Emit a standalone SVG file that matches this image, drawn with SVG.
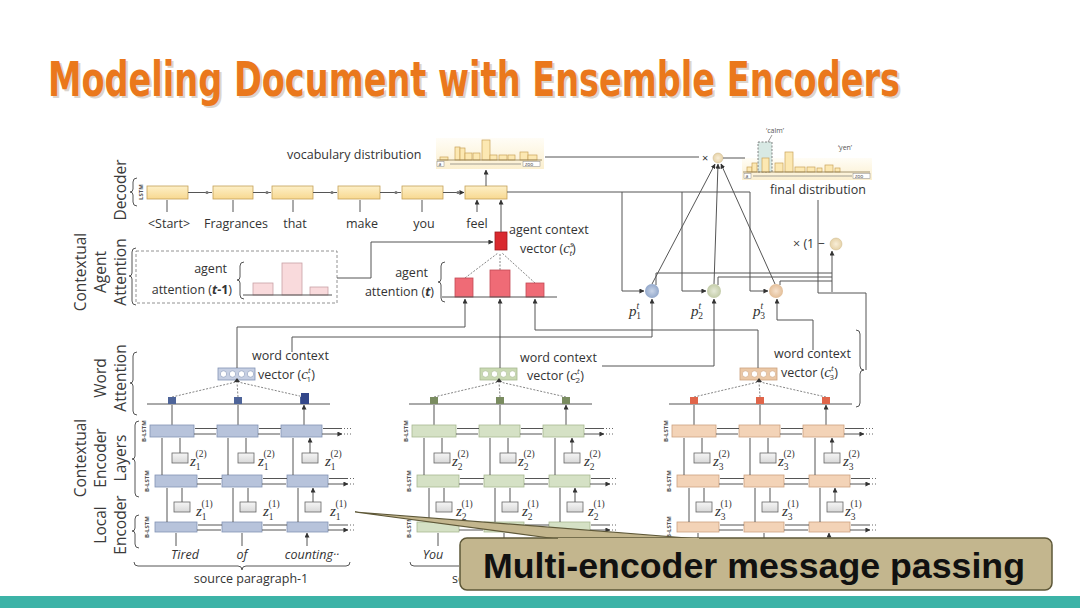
<svg xmlns="http://www.w3.org/2000/svg" xmlns:xlink="http://www.w3.org/1999/xlink" width="1080" height="608" viewBox="0 0 1080 608">
<style>
text{font-family:"Open Sans","Liberation Sans",sans-serif}
text:not([fill]){fill:#333}
.t12{font-size:12.5px}
.rl{font-size:15.5px;text-anchor:middle}
.ln{stroke:#555;stroke-width:1;fill:none}
.ar{stroke:#555;stroke-width:1;fill:none;marker-end:url(#ah)}
.dsh{stroke:#666;stroke-width:0.8;stroke-dasharray:2 1.5;fill:none}
.bx{fill:var(--bf,#ccc);stroke:var(--bs,#888);stroke-width:0.8}
.sq{fill:var(--sq,#555)}
.vec{fill:var(--vf,#ddd);stroke:var(--bs,#888);stroke-width:0.8}
.vc{fill:#fff;stroke:var(--bs,#888);stroke-width:0.6}
.zb{fill:url(#gz);stroke:#666;stroke-width:0.8}
.z{font-family:"Liberation Serif",serif;font-style:italic;font-size:15px}
.s{font-size:9.5px;font-style:normal}
.bl{font-size:6px;text-anchor:middle;font-weight:bold}
.dec{fill:url(#gy);stroke:#C4A058;stroke-width:0.8}
.wl{font-size:12.5px;text-anchor:middle}
.it{font-style:italic}
.brace{fill:none;stroke:#555;stroke-width:1}
.dots{stroke:#666;stroke-width:1;stroke-dasharray:1 2;fill:none}
.hb{fill:#FCE8B2;stroke:#C9A35A;stroke-width:0.7}
.tiny{font-size:5px}
.ttl{font-family:"DejaVu Sans Condensed","DejaVu Sans",sans-serif;font-weight:bold;font-size:48px}
.cal{font-family:"Liberation Sans",Arial,sans-serif;font-weight:bold;font-size:35px}
</style>
<defs>
<marker id="ah" viewBox="0 0 6 6" refX="5.5" refY="3" markerWidth="5" markerHeight="5" orient="auto" markerUnits="userSpaceOnUse"><path d="M0,0L6,3L0,6z" fill="#333"/></marker>
<linearGradient id="gy" x1="0" y1="0" x2="0" y2="1"><stop offset="0" stop-color="#FDF0C8"/><stop offset="1" stop-color="#F8D890"/></linearGradient>
<linearGradient id="gz" x1="0" y1="0" x2="0" y2="1"><stop offset="0" stop-color="#f6f6f6"/><stop offset="1" stop-color="#d8d8d8"/></linearGradient>
<radialGradient id="gp1"><stop offset="0" stop-color="#C9D5E8"/><stop offset="1" stop-color="#93A8CB"/></radialGradient>
<radialGradient id="gp2"><stop offset="0" stop-color="#E6EAD8"/><stop offset="1" stop-color="#C3CCA8"/></radialGradient>
<radialGradient id="gp3"><stop offset="0" stop-color="#F6E2CE"/><stop offset="1" stop-color="#E3BE98"/></radialGradient>
<radialGradient id="gx"><stop offset="0" stop-color="#F8EED8"/><stop offset="1" stop-color="#E6D2A8"/></radialGradient>
<linearGradient id="gh" x1="0" y1="0" x2="0" y2="1"><stop offset="0" stop-color="#FFFDF6"/><stop offset="1" stop-color="#FBEFCF"/></linearGradient>
<clipPath id="cl2"><rect x="400" y="570" width="59" height="20"/></clipPath>
<g id="colT">
<line x1="-3" y1="404" x2="180" y2="404" class="ln"/>
<path class="dsh" d="M22,397L86,382M88,397L87,382M154,397L88,382"/>
<rect class="vec" x="68" y="368" width="37" height="12"/>
<circle class="vc" cx="73.5" cy="374" r="3.2"/><circle class="vc" cx="82.5" cy="374" r="3.2"/><circle class="vc" cx="91.5" cy="374" r="3.2"/><circle class="vc" cx="100.5" cy="374" r="3.2"/>
<path d="M84,382L87,378L90,382z" fill="#333"/>
<rect class="sq" x="18" y="397" width="8" height="7"/><rect class="sq" x="84" y="397" width="8" height="7"/><rect class="sq" x="150" y="397" width="8" height="7"/>
<path class="ar" d="M22,425V405M88,425V405M154,425V405"/>
<rect class="bx" x="0" y="425" width="44" height="12"/><rect class="bx" x="67" y="425" width="41" height="12"/><rect class="bx" x="131" y="425" width="41" height="12"/>
<path class="ar" d="M67,428.5H45M131,428.5H109M192,428.5H173M44,434H66M108,434H130M172,434H192"/>
<path class="dots" d="M194,428.5H202M194,434H202"/>
<rect class="bx" x="5" y="475" width="42" height="12"/><rect class="bx" x="72" y="475" width="40" height="12"/><rect class="bx" x="137" y="475" width="41" height="12"/>
<path class="ar" d="M72,478.5H48M137,478.5H113M198,478.5H179M47,484H71M112,484H136M178,484H198"/>
<path class="dots" d="M200,478.5H206M200,484H206"/>
<rect class="bx" x="5" y="522" width="42" height="10"/><rect class="bx" x="72" y="522" width="40" height="10"/><rect class="bx" x="137" y="522" width="41" height="10"/>
<path class="ar" d="M72,525H48M137,525H113M198,525H179M47,530H71M112,530H136M178,530H198"/>
<path class="dots" d="M200,525H206M200,530H206"/>
<path class="ar" d="M12,475V438M78,475V438M143,475V438M30,453V438M96,453V438M160,453V438"/>
<rect class="zb" x="22" y="453" width="16" height="10"/><rect class="zb" x="88" y="453" width="16" height="10"/><rect class="zb" x="152" y="453" width="16" height="10"/>
<path class="ar" d="M17,522V488M83,522V488M148,522V488M32,502V488M98,502V488M163,502V488"/>
<rect class="zb" x="24" y="502" width="16" height="10"/><rect class="zb" x="90" y="502" width="16" height="10"/><rect class="zb" x="155" y="502" width="16" height="10"/>
<path class="ar" d="M26,546V533M92,546V533M157,546V533"/>
<text class="bl" fill="#555" transform="translate(-4,431) rotate(-90)">B-LSTM</text>
<text class="bl" fill="#555" transform="translate(-1,481) rotate(-90)">B-LSTM</text>
<text class="bl" fill="#555" transform="translate(-1,527) rotate(-90)">B-LSTM</text>
</g>
</defs>
<rect width="1080" height="608" fill="#fff"/>
<g id="title">
<text class="ttl" x="50" y="98" textLength="852" lengthAdjust="spacingAndGlyphs" fill="#BFB3A6" opacity="0.55">Modeling Document with Ensemble Encoders</text>
<text class="ttl" x="48" y="96" textLength="852" lengthAdjust="spacingAndGlyphs" fill="#EA781C">Modeling Document with Ensemble Encoders</text>
</g>
<g id="row-labels">
<text class="rl" fill="#3a3a3a" transform="translate(126,190) rotate(-90)">Decoder</text>
<text class="rl" fill="#3a3a3a" transform="translate(86,272) rotate(-90)">Contextual</text>
<text class="rl" fill="#3a3a3a" transform="translate(106,272) rotate(-90)">Agent</text>
<text class="rl" fill="#3a3a3a" transform="translate(126,272) rotate(-90)">Attention</text>
<text class="rl" fill="#3a3a3a" transform="translate(106,378) rotate(-90)">Word</text>
<text class="rl" fill="#3a3a3a" transform="translate(126,378) rotate(-90)">Attention</text>
<text class="rl" fill="#3a3a3a" transform="translate(86,458) rotate(-90)">Contextual</text>
<text class="rl" fill="#3a3a3a" transform="translate(106,458) rotate(-90)">Encoder</text>
<text class="rl" fill="#3a3a3a" transform="translate(126,458) rotate(-90)">Layers</text>
<text class="rl" fill="#3a3a3a" transform="translate(106,525) rotate(-90)">Local</text>
<text class="rl" fill="#3a3a3a" transform="translate(126,525) rotate(-90)">Encoder</text>
<path class="brace" d="M137,178Q133,178 133,182V189Q133,192 130,192Q133,192 133,195V202Q133,206 137,206"/>
<text class="bl" fill="#555" font-size="7" transform="translate(143,192) rotate(-90)">LSTM</text>
<path class="brace" d="M136,248Q132,248 132,252V273Q132,276 129,276Q132,276 132,279V301Q132,305 136,305"/>
<path class="brace" d="M137,352Q133,352 133,356V380Q133,383 130,383Q133,383 133,386V411Q133,415 137,415"/>
<path class="brace" d="M139,421Q135,421 135,425V456Q135,459 132,459Q135,459 135,462V493Q135,497 139,497"/>
<path class="brace" d="M139,515Q135,515 135,519V528Q135,531 132,531Q135,531 135,534V544Q135,548 139,548"/>
</g>
<g id="decoder">
<rect class="dec" x="147" y="186" width="41" height="13"/>
<rect class="dec" x="213" y="186" width="40" height="13"/>
<rect class="dec" x="272" y="186" width="41" height="13"/>
<rect class="dec" x="338" y="186" width="42" height="13"/>
<rect class="dec" x="402" y="186" width="41" height="13"/>
<rect class="dec" x="465" y="186" width="42" height="13"/>
<path class="ar" d="M188,192.5H212M253,192.5H271M313,192.5H337M380,192.5H401M443,192.5H464"/>
<circle cx="207" cy="192.5" r="1.6" fill="#777"/><circle cx="267" cy="192.5" r="1.6" fill="#777"/><circle cx="332" cy="192.5" r="1.6" fill="#777"/><circle cx="396" cy="192.5" r="1.6" fill="#777"/><circle cx="458" cy="192.5" r="1.6" fill="#777"/>
<path class="ar" d="M167,212V200M233,212V200M293,212V200M360,212V200M422,212V200M477,212V200"/>
<text class="wl" x="169" y="228">&lt;Start&gt;</text>
<text class="wl" x="236" y="228">Fragrances</text>
<text class="wl" x="295" y="228">that</text>
<text class="wl" x="362" y="228">make</text>
<text class="wl" x="424" y="228">you</text>
<text class="wl" x="477" y="228">feel</text>
</g>
<g id="vocab-dist">
<text class="t12" x="287" y="159">vocabulary distribution</text>
<rect x="436" y="138" width="108" height="31" fill="url(#gh)"/>
<rect class="hb" x="440" y="157" width="8" height="3"/>
<rect class="hb" x="455" y="147" width="5" height="13"/>
<rect class="hb" x="460" y="148" width="5" height="12"/>
<rect class="hb" x="465" y="153" width="7" height="7"/>
<rect class="hb" x="473" y="153" width="7" height="7"/>
<rect class="hb" x="482" y="140" width="8" height="20"/>
<rect class="hb" x="490" y="155" width="7" height="5"/>
<rect class="hb" x="499" y="155" width="8" height="5"/>
<rect class="hb" x="508" y="155" width="7" height="5"/>
<rect class="hb" x="520" y="152" width="8" height="8"/>
<rect class="hb" x="528" y="155" width="9" height="5"/>
<line x1="437" y1="160" x2="542" y2="160" stroke="#8a7a50" stroke-width="0.8"/>
<rect x="437" y="161.5" width="7" height="5" fill="#fff" stroke="#888" stroke-width="0.5"/>
<text class="tiny" fill="#444" x="438.5" y="166">a</text>
<path d="M450,164H521" stroke="#666" stroke-width="0.6"/>
<rect x="523" y="161.5" width="17" height="5" fill="#fff" stroke="#888" stroke-width="0.5"/>
<text class="tiny" fill="#444" x="525" y="166">zoo</text>
<path class="ar" d="M486,186V170"/>
</g>
<g id="final-dist">
<rect x="742" y="158" width="130" height="22" fill="url(#gh)"/>
<rect x="758" y="142" width="14" height="30" fill="#D8E9E4" stroke="#555" stroke-width="0.7" stroke-dasharray="2 1.5"/>
<rect class="hb" x="747" y="167" width="5" height="5"/>
<rect class="hb" x="752" y="163" width="5" height="9"/>
<rect class="hb" x="762" y="158" width="7" height="14"/>
<rect class="hb" x="775" y="163" width="8" height="9"/>
<rect class="hb" x="785" y="152" width="8" height="20"/>
<rect class="hb" x="795" y="167" width="10" height="5"/>
<rect class="hb" x="807" y="167" width="8" height="5"/>
<rect class="hb" x="817" y="168" width="5" height="4"/>
<rect class="hb" x="825" y="165" width="8" height="7"/>
<rect class="hb" x="835" y="168" width="5" height="4"/>
<line x1="743" y1="172" x2="870" y2="172" stroke="#8a7a50" stroke-width="0.8"/>
<rect x="744" y="173.5" width="7" height="5" fill="#fff" stroke="#888" stroke-width="0.5"/>
<text class="tiny" fill="#444" x="745.5" y="178">a</text>
<path d="M753,176H852" stroke="#666" stroke-width="0.6"/>
<rect x="853" y="173.5" width="17" height="5" fill="#fff" stroke="#888" stroke-width="0.5"/>
<text class="tiny" fill="#444" x="855" y="178">zoo</text>
<text x="775" y="133" font-size="7" text-anchor="middle" fill="#555">‘calm’</text>
<path d="M772,135L768,142" stroke="#555" stroke-width="0.6"/>
<text x="845" y="150" font-size="7" text-anchor="middle" fill="#555">‘yen’</text>
<text class="t12" x="770" y="194">final distribution</text>
</g>
<g id="mix">
<text x="702" y="162" font-size="11">×</text>
<circle cx="718" cy="158" r="5" fill="url(#gx)" stroke="#CDB88A" stroke-width="0.5"/>
<text class="t12" x="793" y="248">× (1 −</text>
<circle cx="836" cy="244" r="6" fill="url(#gx)" stroke="#CDB88A" stroke-width="0.5"/>
</g>
<g id="p-gates">
<circle cx="652" cy="291" r="7" fill="url(#gp1)"/>
<circle cx="714" cy="291" r="7" fill="url(#gp2)"/>
<circle cx="776" cy="291" r="7" fill="url(#gp3)"/>
<text class="z" x="629" y="316">p<tspan class="s it" dy="-7">t</tspan><tspan class="s" dx="-3" dy="10">1</tspan></text>
<text class="z" x="691" y="316">p<tspan class="s it" dy="-7">t</tspan><tspan class="s" dx="-3" dy="10">2</tspan></text>
<text class="z" x="753" y="316">p<tspan class="s it" dy="-7">t</tspan><tspan class="s" dx="-3" dy="10">3</tspan></text>
</g>
<g id="agent-attn-prev">
<rect x="136" y="251" width="201" height="52" fill="none" stroke="#777" stroke-width="0.8" stroke-dasharray="3 2"/>
<text class="t12" x="227" y="273" text-anchor="end">agent</text>
<text class="t12" x="232" y="294" text-anchor="end">attention (<tspan font-weight="bold" font-style="italic">t</tspan><tspan font-weight="bold">-1</tspan>)</text>
<path class="brace" d="M244,262Q240,262 240,266V277Q240,280 237,280Q240,280 240,283V295Q240,299 244,299"/>
<rect x="253" y="283" width="20" height="12" fill="#F9DADC" stroke="#C9A0A5" stroke-width="0.8"/>
<rect x="282" y="263" width="20" height="32" fill="#F9DADC" stroke="#C9A0A5" stroke-width="0.8"/>
<rect x="310" y="287" width="18" height="8" fill="#F9DADC" stroke="#C9A0A5" stroke-width="0.8"/>
<line x1="243" y1="295" x2="332" y2="295" class="ln"/>
</g>
<g id="agent-attn">
<text class="t12" x="428" y="277" text-anchor="end">agent</text>
<text class="t12" x="434" y="296" text-anchor="end">attention (<tspan font-weight="bold" font-style="italic">t</tspan>)</text>
<path class="brace" d="M445,262Q441,262 441,266V279Q441,282 438,282Q441,282 441,285V298Q441,302 445,302"/>
<path class="dsh" d="M465,278L498,253M500,270L500,253M535,283L502,253"/>
<rect x="455" y="278" width="18" height="19" fill="#EF6B76" stroke="#C44A55" stroke-width="0.8"/>
<rect x="490" y="270" width="20" height="27" fill="#EF6B76" stroke="#C44A55" stroke-width="0.8"/>
<rect x="526" y="283" width="18" height="14" fill="#EF6B76" stroke="#C44A55" stroke-width="0.8"/>
<line x1="442" y1="297" x2="557" y2="297" class="ln"/>
</g>
<g id="agent-context">
<rect x="495" y="232" width="12" height="18" fill="#D9292E" stroke="#A01A1E" stroke-width="0.8"/>
<text class="t12" x="509" y="234">agent context</text>
<text class="t12" x="520" y="253">vector (<tspan class="z" font-size="14">c</tspan><tspan font-size="8" dy="-6" font-style="italic">s</tspan><tspan font-size="8" dx="-4" dy="9" font-style="italic">t</tspan><tspan dy="-3">)</tspan></text>
</g>
<g id="encoder-1" style="--bf:#B7C3DB;--bs:#8393B5;--sq:#4E6499;--vf:#C6CFE3">
<use xlink:href="#colT" href="#colT" x="150"/>
<rect x="301" y="393" width="8" height="11" fill="#33478A"/>
<text class="t12" x="252" y="360">word context</text>
<text class="t12" x="258" y="379">vector (<tspan class="z" font-size="14">c</tspan><tspan font-size="8" dy="-6" font-style="italic">t</tspan><tspan font-size="8" dx="-4" dy="9">1</tspan><tspan dy="-3">)</tspan></text>
<text class="z" x="190" y="466">z<tspan class="s" dy="4">1</tspan><tspan class="s" dx="-5" dy="-13">(2)</tspan></text>
<text class="z" x="258" y="466">z<tspan class="s" dy="4">1</tspan><tspan class="s" dx="-5" dy="-13">(2)</tspan></text>
<text class="z" x="325" y="466">z<tspan class="s" dy="4">1</tspan><tspan class="s" dx="-5" dy="-13">(2)</tspan></text>
<text class="z" x="196" y="516">z<tspan class="s" dy="4">1</tspan><tspan class="s" dx="-5" dy="-13">(1)</tspan></text>
<text class="z" x="263" y="516">z<tspan class="s" dy="4">1</tspan><tspan class="s" dx="-5" dy="-13">(1)</tspan></text>
<text class="z" x="330" y="516">z<tspan class="s" dy="4">1</tspan><tspan class="s" dx="-5" dy="-13">(1)</tspan></text>
<text class="wl it" x="185" y="559">Tired</text>
<text class="wl it" x="242" y="559">of</text>
<text class="wl it" x="312" y="559">counting··</text>
<path class="brace" d="M134,562Q134,566 138,566H238Q242,566 242,570Q242,566 246,566H346Q350,566 350,562"/>
<text class="wl" x="251" y="583">source paragraph-1</text>
</g>
<g id="encoder-2" style="--bf:#D5E1C5;--bs:#A8B892;--sq:#7A8C60;--vf:#C9D9B2">
<use xlink:href="#colT" href="#colT" x="412"/>
<text class="t12" x="520" y="362">word context</text>
<text class="t12" x="527" y="380">vector (<tspan class="z" font-size="14">c</tspan><tspan font-size="8" dy="-6" font-style="italic">t</tspan><tspan font-size="8" dx="-4" dy="9">2</tspan><tspan dy="-3">)</tspan></text>
<text class="z" x="452" y="466">z<tspan class="s" dy="4">2</tspan><tspan class="s" dx="-5" dy="-13">(2)</tspan></text>
<text class="z" x="518" y="466">z<tspan class="s" dy="4">2</tspan><tspan class="s" dx="-5" dy="-13">(2)</tspan></text>
<text class="z" x="584" y="466">z<tspan class="s" dy="4">2</tspan><tspan class="s" dx="-5" dy="-13">(2)</tspan></text>
<text class="z" x="456" y="516">z<tspan class="s" dy="4">2</tspan><tspan class="s" dx="-5" dy="-13">(1)</tspan></text>
<text class="z" x="522" y="516">z<tspan class="s" dy="4">2</tspan><tspan class="s" dx="-5" dy="-13">(1)</tspan></text>
<text class="z" x="588" y="516">z<tspan class="s" dy="4">2</tspan><tspan class="s" dx="-5" dy="-13">(1)</tspan></text>
<text class="wl it" x="433" y="559">You</text>
<path class="brace" d="M410,562Q410,566 414,566H459"/>
<text class="t12" x="452" y="583" clip-path="url(#cl2)">source paragraph-2</text>
</g>
<g id="encoder-3" style="--bf:#F3D3B7;--bs:#CCA27F;--sq:#E0654A;--vf:#EBC8A6">
<use xlink:href="#colT" href="#colT" x="672"/>
<text class="t12" x="774" y="358">word context</text>
<text class="t12" x="781" y="377">vector (<tspan class="z" font-size="14">c</tspan><tspan font-size="8" dy="-6" font-style="italic">t</tspan><tspan font-size="8" dx="-4" dy="9">3</tspan><tspan dy="-3">)</tspan></text>
<text class="z" x="713" y="466">z<tspan class="s" dy="4">3</tspan><tspan class="s" dx="-5" dy="-13">(2)</tspan></text>
<text class="z" x="778" y="466">z<tspan class="s" dy="4">3</tspan><tspan class="s" dx="-5" dy="-13">(2)</tspan></text>
<text class="z" x="843" y="466">z<tspan class="s" dy="4">3</tspan><tspan class="s" dx="-5" dy="-13">(2)</tspan></text>
<text class="z" x="715" y="516">z<tspan class="s" dy="4">3</tspan><tspan class="s" dx="-5" dy="-13">(1)</tspan></text>
<text class="z" x="782" y="516">z<tspan class="s" dy="4">3</tspan><tspan class="s" dx="-5" dy="-13">(1)</tspan></text>
<text class="z" x="845" y="516">z<tspan class="s" dy="4">3</tspan><tspan class="s" dx="-5" dy="-13">(1)</tspan></text>
<path class="brace" d="M856,330Q860,330 860,334V366Q860,370 864,370Q860,370 860,374V403Q860,407 856,407"/>
</g>
<g id="connectors">
<path class="ar" d="M501,232V200"/>
<path class="ar" d="M337,278H371V242H493"/>
<path class="ar" d="M237,368V327H465V299"/>
<path class="ar" d="M292,352V337H652V299"/>
<path class="ar" d="M500,368V299"/>
<path class="ar" d="M602,366H714V299"/>
<path class="ar" d="M758,368V330H535V299"/>
<path class="ar" d="M813,350V320H777V299"/>
<path class="ln" d="M507,192H750"/>
<path class="ar" d="M622,192V291H644"/>
<path class="ar" d="M682,192V291H706"/>
<path class="ar" d="M750,192V291H768"/>
<path class="ar" d="M652,284L715,164"/>
<path class="ar" d="M714,284L718,164"/>
<path class="ar" d="M775,284L721,164"/>
<path class="ln" d="M656,285V273H832M718,285V277H832M780,285V281H832"/>
<path class="ar" d="M832,292V251"/>
<path class="ln" d="M866,370V293H818V200"/>
<path class="ln" d="M545,157H699"/>
<path class="ln" d="M723,158H745"/>
</g>
<g id="callout">
<path d="M355,512L557,539H700Z" fill="#C3B68E" stroke="#5E5838" stroke-width="1.2"/>
<rect x="460" y="538" width="592" height="52" rx="7" fill="#C3B68E" stroke="#5E5838" stroke-width="1.5"/>
<line x1="558" y1="539" x2="699" y2="539" stroke="#C3B68E" stroke-width="2"/>
<text class="cal" x="483" y="578" textLength="542" lengthAdjust="spacingAndGlyphs" fill="#111">Multi-encoder message passing</text>
</g>
<rect id="footer" x="0" y="596" width="1080" height="12" fill="#3DB3A7"/>
</svg>
